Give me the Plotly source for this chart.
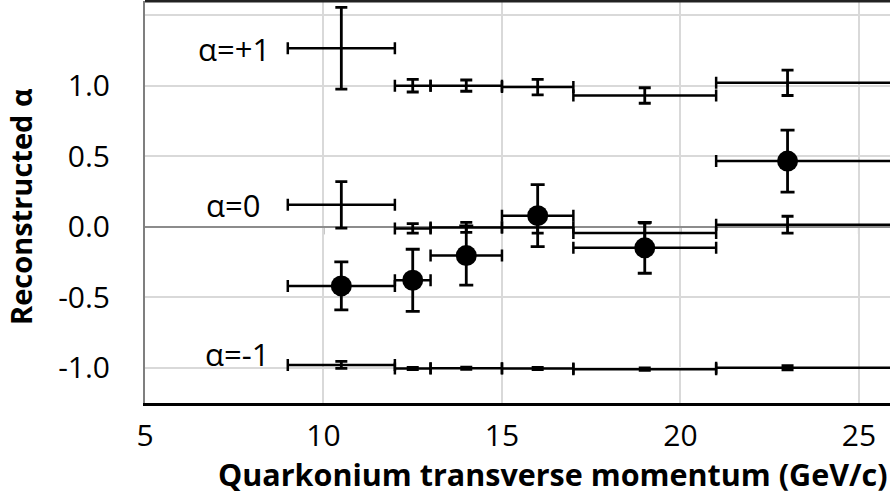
import plotly.graph_objects as go

# bins (GeV/c)
pt_center = [10.5, 12.5, 14, 16, 19, 23]
bin_low = [9, 12, 13, 15, 17, 21]
bin_high = [12, 13, 15, 17, 21, 30]

# simulated alpha = +1, 0, -1 (values and errors)
a_plus1 = [1.265, 1.00, 1.00, 0.99, 0.93, 1.02]
a_plus1_err = [0.29, 0.045, 0.04, 0.055, 0.055, 0.09]
a_zero = [0.155, -0.012, -0.005, -0.005, -0.045, 0.014]
a_zero_err = [0.165, 0.033, 0.035, 0.04, 0.07, 0.06]
a_minus1 = [-0.98, -1.005, -1.003, -1.005, -1.01, -1.0]
a_minus1_err = [0.025, 0.008, 0.008, 0.008, 0.008, 0.015]

# measured
data_alpha = [-0.42, -0.38, -0.205, 0.078, -0.15, 0.465]
data_err = [0.17, 0.22, 0.21, 0.22, 0.18, 0.22]

series_labels = ["\u03b1=+1", "\u03b1=0", "\u03b1=-1"]
label_x = [7.5, 7.47, 7.57]
label_y = [1.26, 0.155, -0.905]

x_title = "<b>Quarkonium transverse momentum (GeV/c)</b>"
y_title = "<b>Reconstructed \u03b1</b>"

x_plus = [h - c for h, c in zip(bin_high, pt_center)]
x_minus = [c - l for c, l in zip(pt_center, bin_low)]

FONT = "Open Sans"
fig = go.Figure()

def sim_trace(y, err):
    return go.Scatter(
        x=pt_center, y=y, mode="markers",
        marker=dict(size=1, color="rgba(0,0,0,0)"),
        error_x=dict(type="data", symmetric=False, array=x_plus, arrayminus=x_minus,
                     color="black", thickness=2.5, width=6),
        error_y=dict(type="data", array=err, color="black", thickness=2.8, width=6),
        showlegend=False, hoverinfo="skip", cliponaxis=True)

fig.add_trace(sim_trace(a_plus1, a_plus1_err))
fig.add_trace(sim_trace(a_zero, a_zero_err))
fig.add_trace(sim_trace(a_minus1, a_minus1_err))

fig.add_trace(go.Scatter(
    x=pt_center, y=data_alpha, mode="markers",
    marker=dict(size=21, color="black"),
    error_x=dict(type="data", symmetric=False, array=x_plus, arrayminus=x_minus,
                 color="black", thickness=2.5, width=6),
    error_y=dict(type="data", array=data_err, color="black", thickness=2.8, width=7),
    showlegend=False))

for t, xx, yy in zip(series_labels, label_x, label_y):
    fig.add_annotation(x=xx, y=yy, text=t, showarrow=False,
                       font=dict(family=FONT, size=31, color="black"),
                       xanchor="center", yanchor="middle")

# axis titles
fig.add_annotation(xref="paper", yref="paper", x=0.5477, y=-0.176, text=x_title,
                   showarrow=False, xanchor="center", yanchor="middle",
                   font=dict(family=FONT, size=30.5, color="black"))
fig.add_annotation(xref="paper", yref="paper", x=-0.1664, y=0.4876, text=y_title,
                   showarrow=False, xanchor="center", yanchor="middle", textangle=-90,
                   font=dict(family=FONT, size=29, color="black"))

# x-axis tick marks crossing at y=0
for tx in [10, 15, 20, 25]:
    fig.add_shape(type="line", x0=tx, x1=tx, y0=0, y1=-0.055, xref="x", yref="y",
                  line=dict(color="#8c8c8c", width=2), layer="below")

fig.update_layout(
    width=890, height=498,
    margin=dict(l=145, r=0, t=1, b=95, autoexpand=False),
    paper_bgcolor="white", plot_bgcolor="white",
    font=dict(family=FONT, color="black"),
)
fig.update_xaxes(
    range=[5, 25.87], tickvals=[5, 10, 15, 20, 25],
    showgrid=True, gridcolor="#d9d9d9", gridwidth=2,
    showline=True, linecolor="black", linewidth=3, mirror=False,
    zeroline=False, ticks="", ticklabelstandoff=4,
    tickfont=dict(family=FONT, size=30, color="black"),
    automargin=False,
)
fig.update_yaxes(
    range=[-1.25, 1.6], tickvals=[-1, -0.5, 0, 0.5, 1, 1.5],
    ticktext=["-1.0", "-0.5", "0.0", "0.5", "1.0", ""],
    showgrid=True, gridcolor="#d9d9d9", gridwidth=2,
    showline=True, linecolor="#7f7f7f", linewidth=2,
    zeroline=True, zerolinecolor="#8c8c8c", zerolinewidth=2,
    ticks="", ticklabelstandoff=27,
    tickfont=dict(family=FONT, size=30, color="black"),
    automargin=False,
)
# dark top border
fig.add_shape(type="line", xref="paper", yref="paper", x0=0, x1=1, y0=1, y1=1,
              line=dict(color="#222", width=3))

fig.write_html("out.html", config={"displayModeBar": False},
               post_script="document.body.style.margin='0';document.body.style.overflow='hidden';")
